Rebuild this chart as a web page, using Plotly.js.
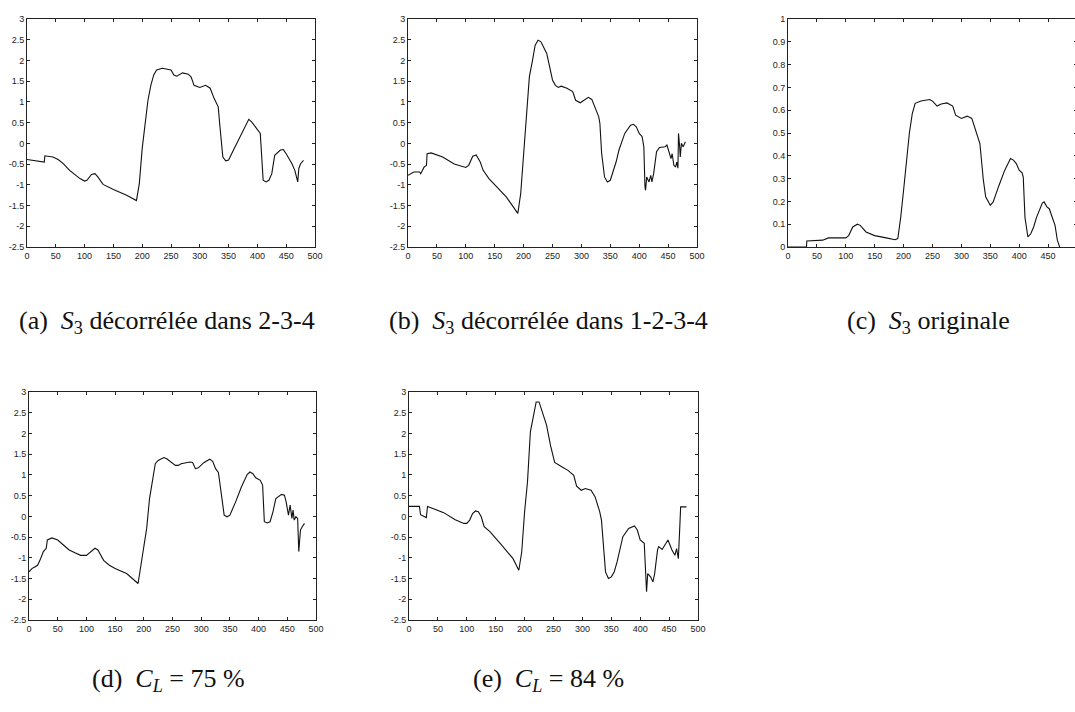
<!DOCTYPE html>
<html><head><meta charset="utf-8">
<script src="https://cdn.plot.ly/plotly-3.0.1.min.js"></script>
<style>html,body{margin:0;padding:0;overflow:hidden;background:#fff}#c{width:1080px;height:712px}</style>
</head><body><div id="c"></div><script>
// (a) S3 décorrélée dans 2-3-4
const xA=[0,30,31,45,54,63,74,92,100,104,112,118,123,132,150,173,190,195,200,205,210,215,220,225,235,250,255,260,270,280,285,290,300,310,318,325,332,335,340,345,350,360,370,380,385,390,400,405,410,415,420,425,430,435,440,445,450,460,465,470,472,475,480];
const yA=[-0.39,-0.45,-0.3,-0.33,-0.39,-0.49,-0.65,-0.85,-0.91,-0.89,-0.75,-0.73,-0.81,-0.99,-1.11,-1.25,-1.38,-0.97,-0.12,0.44,1.04,1.4,1.65,1.77,1.81,1.77,1.65,1.62,1.7,1.67,1.6,1.4,1.35,1.4,1.33,1.08,0.88,0.4,-0.33,-0.42,-0.4,-0.12,0.16,0.48,0.58,0.52,0.32,0.24,-0.89,-0.93,-0.89,-0.73,-0.29,-0.23,-0.16,-0.15,-0.25,-0.49,-0.65,-0.93,-0.6,-0.49,-0.41];
// (b) S3 décorrélée dans 1-2-3-4
const xB=[0,10,20,22,28,32,33,40,60,80,100,105,112,118,125,130,140,160,170,180,190,195,200,205,210,215,220,225,230,240,245,250,255,260,265,275,285,290,298,305,312,318,325,330,332,335,340,345,350,360,365,375,385,390,395,400,405,408,410,411,413,417,420,422,425,430,435,445,448,452,455,457,460,463,465,467,468,470,471,473,476,480];
const yB=[-0.77,-0.69,-0.69,-0.73,-0.57,-0.53,-0.25,-0.23,-0.33,-0.5,-0.58,-0.53,-0.31,-0.28,-0.45,-0.65,-0.85,-1.13,-1.29,-1.49,-1.69,-1.21,-0.32,0.64,1.61,1.97,2.37,2.49,2.45,2.17,1.85,1.53,1.4,1.35,1.38,1.33,1.25,1.04,0.98,1.04,1.11,1.06,0.8,0.64,0.48,-0.24,-0.81,-0.93,-0.89,-0.45,-0.16,0.24,0.44,0.46,0.4,0.24,0.16,-0.08,-1.05,-1.13,-0.81,-0.93,-0.77,-0.93,-0.73,-0.2,-0.1,-0.08,-0.04,-0.23,-0.37,-0.25,-0.53,-0.57,-0.45,-0.6,0.24,-0.08,-0.33,0,-0.08,0.04];
// (c) S3 originale
const xC=[0,32,32.5,60,70,100,105,112,120,125,135,150,170,185,190,195,200,205,210,215,220,230,245,250,258,265,275,285,290,300,310,318,325,332,338,342,350,355,365,375,385,390,395,400,405,407,410,415,420,425,430,440,443,448,452,458,462,466,470];
const yC=[0,0,0.026,0.03,0.04,0.04,0.05,0.088,0.1,0.095,0.066,0.05,0.04,0.032,0.037,0.13,0.25,0.38,0.5,0.585,0.63,0.64,0.647,0.64,0.618,0.627,0.632,0.618,0.578,0.564,0.574,0.564,0.505,0.454,0.293,0.22,0.183,0.198,0.27,0.337,0.388,0.381,0.366,0.337,0.325,0.307,0.13,0.044,0.058,0.088,0.13,0.193,0.198,0.176,0.168,0.124,0.095,0.03,0];
// (d) C_L = 75 %
const xD=[0,5,10,15,20,25,30,32,40,50,60,70,80,90,100,107,115,120,130,140,150,170,190,195,200,205,210,215,220,225,235,240,245,255,260,265,280,285,290,295,305,315,320,325,330,335,340,345,350,360,370,380,385,390,395,403,407,410,415,420,425,430,440,445,448,452,455,458,460,462,465,468,470,472,473,476,480];
const yD=[-1.34,-1.26,-1.22,-1.18,-1.03,-0.85,-0.77,-0.57,-0.52,-0.57,-0.69,-0.81,-0.88,-0.94,-0.94,-0.85,-0.77,-0.81,-1.06,-1.18,-1.26,-1.38,-1.62,-1.18,-0.69,-0.29,0.43,0.87,1.27,1.35,1.42,1.39,1.33,1.23,1.23,1.27,1.31,1.3,1.15,1.17,1.3,1.38,1.33,1.15,1.06,0.51,0.03,-0.01,0.03,0.35,0.71,1.01,1.07,1.03,0.93,0.87,0.75,-0.13,-0.16,-0.13,0.11,0.43,0.53,0.51,0.35,0.03,0.27,-0.05,0.15,-0.09,-0.01,-0.05,-0.85,-0.49,-0.33,-0.25,-0.17];
// (e) C_L = 84 %
const xE=[0,18,20,25,30,32,40,60,80,95,100,105,110,115,120,125,130,140,160,180,190,195,200,205,210,215,220,225,230,238,245,252,265,275,285,290,298,305,315,322,330,333,340,345,350,355,360,370,380,390,395,400,407,410,411,413,418,422,425,430,432,438,445,448,455,460,463,466,468,470,480];
const yE=[0.24,0.24,0.04,0.01,-0.03,0.24,0.2,0.09,-0.08,-0.17,-0.17,-0.09,0.07,0.13,0.11,-0.01,-0.25,-0.37,-0.69,-1.02,-1.3,-0.86,0.11,0.83,2.04,2.36,2.76,2.76,2.56,2.2,1.7,1.3,1.19,1.11,0.99,0.73,0.63,0.67,0.63,0.47,0.11,-0.09,-1.34,-1.5,-1.46,-1.34,-1.1,-0.49,-0.29,-0.23,-0.33,-0.57,-0.65,-1.74,-1.82,-1.38,-1.46,-1.58,-1.38,-0.81,-0.73,-0.8,-0.65,-0.57,-0.81,-0.94,-0.78,-1.02,-0.41,0.23,0.23];

const xTicks=[0,50,100,150,200,250,300,350,400,450,500];
const xTickText=['0','50','100','150','200','250','300','350','400','450','500'];
const yTicksS=[3,2.5,2,1.5,1,0.5,0,-0.5,-1,-1.5,-2,-2.5];
const yTickTextS=['3','2.5','2','1.5','1','0.5','0','-0.5','-1','-1.5','-2','-2.5'];
const yTicksC=[0,0.1,0.2,0.3,0.4,0.5,0.6,0.7,0.8,0.9,1];
const yTickTextC=['0','0.1','0.2','0.3','0.4','0.5','0.6','0.7','0.8','0.9','1'];

const captions=[
 '(a)  <i>S</i><sub>3</sub> décorrélée dans 2-3-4',
 '(b)  <i>S</i><sub>3</sub> décorrélée dans 1-2-3-4',
 '(c)  <i>S</i><sub>3</sub> originale',
 '(d)  <i>C</i><sub><i>L</i></sub> = 75 %',
 '(e)  <i>C</i><sub><i>L</i></sub> = 84 %'
];

const W=1080,H=712;
// panel pixel boxes [left,right,top,bottom]
const boxes=[[27,315,19,247],[408,697,19,247],[788,1077,19,247],[29,316,392,620],[409,698,392,620]];
const capY=[322,322,322,680,680];
const capX=[167,548,928,168,548];

const series=[[xA,yA],[xB,yB],[xC,yC],[xD,yD],[xE,yE]];
const traces=[];const layout={width:W,height:H,margin:{l:0,r:0,t:0,b:0},showlegend:false,
 paper_bgcolor:'#fff',plot_bgcolor:'#fff',annotations:[],font:{family:'Liberation Serif',color:'#111'}};
series.forEach((s,i)=>{
  const n=i===0?'':String(i+1);
  traces.push({x:s[0],y:s[1],type:'scatter',mode:'lines',xaxis:'x'+n,yaxis:'y'+n,
    line:{color:'#111',width:1.1},hoverinfo:'skip'});
  const b=boxes[i];
  const common={showgrid:false,zeroline:false,showline:true,linecolor:'#222',linewidth:1,mirror:'ticks',
    ticks:'inside',ticklen:3,tickcolor:'#222',tickfont:{family:'Liberation Sans',size:9,color:'#222'}};
  layout['xaxis'+n]=Object.assign({},common,{domain:[b[0]/W,b[1]/W],range:[0,500],anchor:'y'+n,
    tickmode:'array',tickvals:xTicks,ticktext:xTickText});
  const isC=i===2;
  layout['yaxis'+n]=Object.assign({},common,{domain:[1-b[3]/H,1-b[2]/H],range:isC?[0,1]:[-2.5,3],anchor:'x'+n,
    tickmode:'array',tickvals:isC?yTicksC:yTicksS,ticktext:isC?yTickTextC:yTickTextS});
  layout.annotations.push({text:'<span style="font-family:Liberation Serif">'+captions[i]+'</span>',
    xref:'paper',yref:'paper',x:capX[i]/W,y:1-capY[i]/H,
    xanchor:'center',yanchor:'middle',showarrow:false,
    font:{family:'Liberation Serif',size:26,color:'#111'}});
});
Plotly.newPlot('c',traces,layout,{displayModeBar:false});
</script></body></html>
